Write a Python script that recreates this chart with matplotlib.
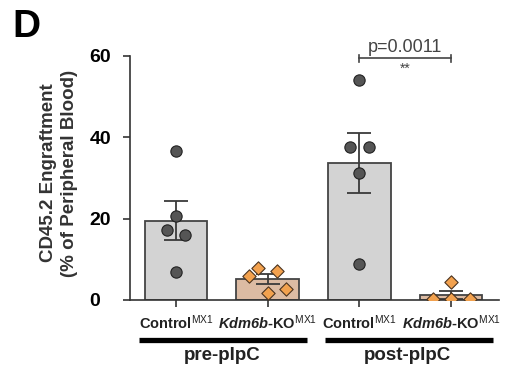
import numpy as np
import matplotlib.pyplot as plt
from matplotlib.transforms import blended_transform_factory

plt.rcParams['font.family'] = 'Liberation Sans'
plt.rcParams['mathtext.fontset'] = 'custom'
plt.rcParams['mathtext.rm'] = 'Liberation Sans:italic:bold'
plt.rcParams['mathtext.it'] = 'Liberation Sans:italic:bold'
plt.rcParams['mathtext.sf'] = 'Liberation Sans'
plt.rcParams['mathtext.bf'] = 'Liberation Sans:bold'

# values
labels = [r'Control$^{\mathsf{MX1}}$', r'$Kdm6b$-KO$^{\mathsf{MX1}}$',
          r'Control$^{\mathsf{MX1}}$', r'$Kdm6b$-KO$^{\mathsf{MX1}}$']
means = [19.5, 5.1, 33.7, 1.15]
sems = [4.8, 1.2, 7.3, 1.0]
ctrl_pre = [36.5, 20.6, 17.1, 15.9, 6.8]
ko_pre = [6.0, 7.9, 7.2, 2.6, 1.6]
ctrl_post = [54.1, 37.5, 37.5, 31.1, 8.8]
ko_post = [4.5, 0.3, 0.3, 0.3]
groups = ['pre-pIpC', 'post-pIpC']
p_text = 'p=0.0011'

# horizontal jitter of the dots
jit_ctrl_pre = [0, 0, -0.095, 0.10, 0]
jit_ko_pre = [-0.2, -0.1, 0.105, 0.196, 0]
jit_ctrl_post = [0, -0.098, 0.105, 0, 0]
jit_ko_post = [0, -0.2, 0, 0.207]

x = np.arange(4)
fig = plt.figure(figsize=(5.18, 3.68), dpi=100)
ax = fig.add_axes([0.251, 0.185, 0.712, 0.663])

bar_colors = ['#d3d3d3', '#dcbba3', '#d3d3d3', '#dcbba3']
ax.bar(x, means, width=0.68, color=bar_colors, edgecolor='#444444', linewidth=1.3, zorder=1)
ax.errorbar(x, means, yerr=sems, fmt='none', ecolor='#3a3a3a', elinewidth=1.3,
            capsize=8.5, capthick=1.3, zorder=2)

circ = dict(marker='o', s=66, color='#555555', edgecolor='#222222', linewidth=0.8, zorder=3)
diam = dict(marker='D', s=46, color='#f2a14e', edgecolor='#4a3320', linewidth=0.8, zorder=3)
ax.scatter(x[0] + np.array(jit_ctrl_pre), ctrl_pre, **circ)
ax.scatter(x[1] + np.array(jit_ko_pre), ko_pre, **diam)
ax.scatter(x[2] + np.array(jit_ctrl_post), ctrl_post, **circ)
ax.scatter(x[3] + np.array(jit_ko_post), ko_post, **diam)

ax.set_xlim(-0.5, 3.52)
ax.set_ylim(0, 60)
ax.set_yticks([0, 20, 40, 60])
ax.set_yticklabels(['0', '20', '40', '60'], fontsize=14, fontweight='bold', ha='left')
ax.set_xticks(x)
ax.set_xticklabels(labels, fontsize=10.5, fontweight='bold', color='#222222')
ax.tick_params(axis='both', length=5, width=1.2, color='#333333')
ax.tick_params(axis='x', pad=5)
ax.tick_params(axis='y', pad=24)
for s in ['top', 'right']:
    ax.spines[s].set_visible(False)
for s in ['left', 'bottom']:
    ax.spines[s].set_linewidth(1.2)
    ax.spines[s].set_color('#333333')

ax.set_ylabel('CD45.2 Engraftment\n(% of Peripheral Blood)', fontsize=13.5,
              fontweight='bold', color='#333333', linespacing=1.3)
ax.yaxis.set_label_coords(-0.141, 0.52)

# significance bracket
ax.plot([2, 3], [59.4, 59.4], color='#444444', lw=1.2, clip_on=False)
ax.plot([2, 2], [58.5, 60.3], color='#444444', lw=1.2, clip_on=False)
ax.plot([3, 3], [58.5, 60.3], color='#444444', lw=1.2, clip_on=False)
ax.text(2.5, 60.0, p_text, ha='center', va='bottom', fontsize=13, color='#444444')
ax.text(2.5, 58.6, '**', ha='center', va='top', fontsize=10, color='#444444')

# group bars under the x axis
tr = blended_transform_factory(ax.transData, ax.transAxes)
ax.plot([-0.40, 1.43], [-0.164, -0.164], color='black', lw=3.8, transform=tr,
        clip_on=False, solid_capstyle='butt')
ax.plot([1.62, 3.46], [-0.164, -0.164], color='black', lw=3.8, transform=tr,
        clip_on=False, solid_capstyle='butt')
ax.text(0.5, -0.228, groups[0], transform=tr, ha='center', va='center',
        fontsize=13.5, fontweight='bold', color='#222222')
ax.text(2.52, -0.228, groups[1], transform=tr, ha='center', va='center',
        fontsize=13.5, fontweight='bold', color='#222222')

fig.text(0.024, 0.975, 'D', fontsize=28, fontweight='bold', ha='left', va='top')

fig.savefig('out.png', dpi=100)
